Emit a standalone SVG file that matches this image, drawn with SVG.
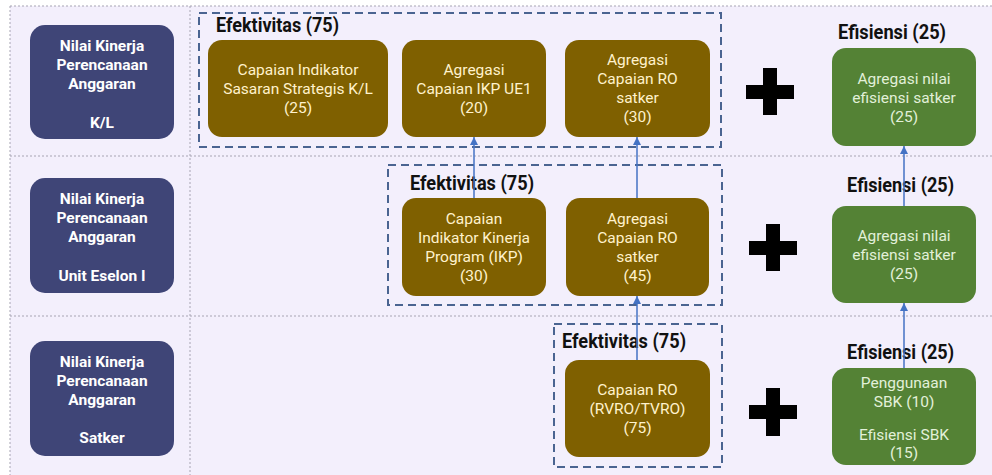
<svg xmlns="http://www.w3.org/2000/svg" width="992" height="475" viewBox="0 0 992 475">
<defs>
<style>
.grid{stroke:#A7A4B3;stroke-width:1;stroke-dasharray:2 2;fill:none}
.lvl{fill:#3F4577}
.lvl-t{font-family:Roboto,"Liberation Sans",sans-serif;font-weight:bold;font-size:15.5px;fill:#FFFFFF;text-anchor:middle}
.eff{fill:#7F6000}
.eff-t{font-family:Roboto,"Liberation Sans",sans-serif;font-size:15.5px;fill:#FFF2CC;text-anchor:middle}
.efs{fill:#548235}
.efs-t{font-family:Roboto,"Liberation Sans",sans-serif;font-size:15.5px;fill:#E2F0D9;text-anchor:middle}
.frame{fill:none;stroke:#4A6491;stroke-width:2;stroke-dasharray:8 5}
.title{font-family:Roboto,"Liberation Sans",sans-serif;font-weight:bold;font-size:20px;fill:#111111}
.plus{fill:#000000}
.conn{stroke:#4472C4;stroke-width:1.5;fill:none;marker-end:url(#arr)}
</style>
<marker id="arr" viewBox="0 0 8 8" refX="8" refY="4" markerWidth="8" markerHeight="8" markerUnits="userSpaceOnUse" orient="auto">
<path d="M0,0 L8,4 L0,8 z" fill="#4472C4"/>
</marker>
</defs>
<rect x="0" y="0" width="992" height="475" fill="#FFFFFF"/>
<rect x="10" y="6" width="982" height="469" fill="#F3EFFC"/>
<g id="grid">
<line class="grid" x1="10" y1="6" x2="992" y2="6"/>
<line class="grid" x1="10" y1="156" x2="992" y2="156"/>
<line class="grid" x1="10" y1="316" x2="992" y2="316"/>
<line class="grid" x1="10" y1="6" x2="10" y2="475"/>
<line class="grid" x1="190" y1="6" x2="190" y2="475"/>
</g>

<g id="level-kl">
<rect class="lvl" x="30" y="25" width="144" height="114" rx="15"/>
<text class="lvl-t"><tspan x="102" y="51">Nilai Kinerja</tspan><tspan x="102" y="70">Perencanaan</tspan><tspan x="102" y="89">Anggaran</tspan><tspan x="102" y="128">K/L</tspan></text>
</g>
<g id="level-eselon">
<rect class="lvl" x="30" y="178" width="144" height="115" rx="15"/>
<text class="lvl-t"><tspan x="102" y="204">Nilai Kinerja</tspan><tspan x="102" y="223">Perencanaan</tspan><tspan x="102" y="242">Anggaran</tspan><tspan x="102" y="281">Unit Eselon I</tspan></text>
</g>
<g id="level-satker">
<rect class="lvl" x="30" y="341" width="144" height="115" rx="15"/>
<text class="lvl-t"><tspan x="102" y="367">Nilai Kinerja</tspan><tspan x="102" y="386">Perencanaan</tspan><tspan x="102" y="405">Anggaran</tspan><tspan x="102" y="443">Satker</tspan></text>
</g>

<g id="frame-kl">
<rect class="frame" x="199" y="13" width="522" height="134"/>
<text class="title" x="216" y="32" textLength="123" lengthAdjust="spacingAndGlyphs">Efektivitas (75)</text>
</g>
<g id="frame-eselon">
<rect class="frame" x="388" y="165" width="334" height="140"/>
<text class="title" x="410" y="190" textLength="124" lengthAdjust="spacingAndGlyphs">Efektivitas (75)</text>
</g>
<g id="frame-satker">
<rect class="frame" x="554" y="324" width="168" height="143"/>
<text class="title" x="562" y="348" textLength="124" lengthAdjust="spacingAndGlyphs">Efektivitas (75)</text>
</g>

<g id="kl-iss">
<rect class="eff" x="208" y="40" width="180" height="97" rx="14"/>
<text class="eff-t"><tspan x="298" y="74.5">Capaian Indikator</tspan><tspan x="298" y="93.5">Sasaran Strategis K/L</tspan><tspan x="298" y="112.5">(25)</tspan></text>
</g>
<g id="kl-ikp">
<rect class="eff" x="402" y="40" width="144" height="97" rx="14"/>
<text class="eff-t"><tspan x="474" y="74.5">Agregasi</tspan><tspan x="474" y="93.5">Capaian IKP UE1</tspan><tspan x="474" y="112.5">(20)</tspan></text>
</g>
<g id="kl-ro">
<rect class="eff" x="565" y="40" width="145" height="97" rx="14"/>
<text class="eff-t"><tspan x="637.5" y="65">Agregasi</tspan><tspan x="637.5" y="84">Capaian RO</tspan><tspan x="637.5" y="103">satker</tspan><tspan x="637.5" y="122">(30)</tspan></text>
</g>
<g id="plus-kl"><rect class="plus" x="746" y="85" width="48" height="14"/><rect class="plus" x="763" y="68" width="14" height="47"/></g>
<g id="kl-efs">
<text class="title" x="838" y="39" textLength="108" lengthAdjust="spacingAndGlyphs">Efisiensi (25)</text>
<rect class="efs" x="832" y="48" width="144" height="98" rx="14"/>
<text class="efs-t"><tspan x="904" y="83.5">Agregasi nilai</tspan><tspan x="904" y="102.5">efisiensi satker</tspan><tspan x="904" y="121.5">(25)</tspan></text>
</g>

<g id="es-ikp">
<rect class="eff" x="402" y="198" width="144" height="98" rx="14"/>
<text class="eff-t"><tspan x="474" y="223.5">Capaian</tspan><tspan x="474" y="242.5">Indikator Kinerja</tspan><tspan x="474" y="261.5">Program (IKP)</tspan><tspan x="474" y="280.5">(30)</tspan></text>
</g>
<g id="es-ro">
<rect class="eff" x="566" y="198" width="143" height="98" rx="14"/>
<text class="eff-t"><tspan x="637.5" y="223.5">Agregasi</tspan><tspan x="637.5" y="242.5">Capaian RO</tspan><tspan x="637.5" y="261.5">satker</tspan><tspan x="637.5" y="280.5">(45)</tspan></text>
</g>
<g id="plus-es"><rect class="plus" x="749" y="241" width="48" height="14"/><rect class="plus" x="766" y="224" width="14" height="47"/></g>
<g id="es-efs">
<text class="title" x="847" y="192" textLength="107" lengthAdjust="spacingAndGlyphs">Efisiensi (25)</text>
<rect class="efs" x="832" y="206" width="144" height="97" rx="14"/>
<text class="efs-t"><tspan x="904" y="241">Agregasi nilai</tspan><tspan x="904" y="260">efisiensi satker</tspan><tspan x="904" y="279">(25)</tspan></text>
</g>

<g id="st-ro">
<rect class="eff" x="565" y="360" width="145" height="97" rx="14"/>
<text class="eff-t"><tspan x="637.5" y="394.5">Capaian RO</tspan><tspan x="637.5" y="413.5">(RVRO/TVRO)</tspan><tspan x="637.5" y="432.5">(75)</tspan></text>
</g>
<g id="plus-st"><rect class="plus" x="749" y="405" width="48" height="14"/><rect class="plus" x="766" y="388" width="14" height="48"/></g>
<g id="st-efs">
<text class="title" x="847" y="359" textLength="107" lengthAdjust="spacingAndGlyphs">Efisiensi (25)</text>
<rect class="efs" x="832" y="368" width="144" height="97" rx="14"/>
<text class="efs-t"><tspan x="904" y="388">Penggunaan</tspan><tspan x="904" y="407">SBK (10)</tspan><tspan x="904" y="440">Efisiensi SBK</tspan><tspan x="904" y="458">(15)</tspan></text>
</g>

<g id="connectors">
<line class="conn" x1="474" y1="198" x2="474" y2="137"/>
<line class="conn" x1="637" y1="198" x2="637" y2="137"/>
<line class="conn" x1="637" y1="360" x2="637" y2="296"/>
<line class="conn" x1="904" y1="368" x2="904" y2="303"/>
<line class="conn" x1="904" y1="206" x2="904" y2="146"/>
</g>
</svg>
